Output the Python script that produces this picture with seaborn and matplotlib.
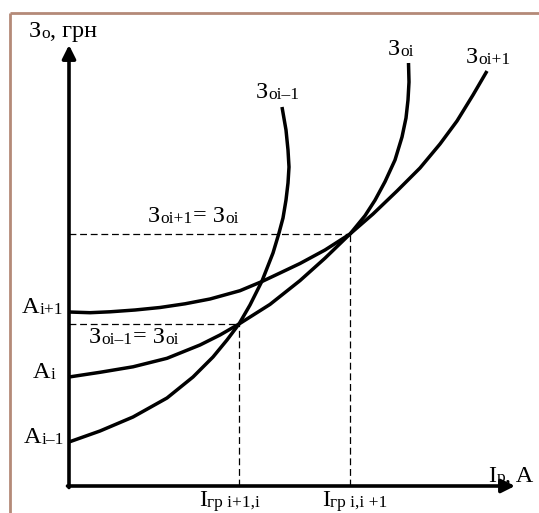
import matplotlib
matplotlib.use("Agg")
import matplotlib.pyplot as plt
import seaborn as sns
import pandas as pd

# ---------------- data (arbitrary units: current I_p on x, cost З_o on y) ----------------
# curve З_oi-1
c1_x = [0.0, 3.1, 6.4, 9.8, 12.4, 14.4, 15.8, 17.0, 18.1, 19.3, 20.4, 21.0, 21.4, 21.7, 21.9, 22.0, 21.9, 21.7, 21.3]
c1_y = [4.4, 5.5, 6.9, 8.8, 10.9, 12.9, 14.6, 16.2, 18.1, 20.5, 23.3, 25.3, 26.8, 28.6, 30.3, 31.9, 33.6, 35.6, 37.9]
# curve З_oi
c2_x = [0.0, 3.1, 6.4, 9.8, 13.1, 15.1, 17.0, 20.1, 23.1, 25.6, 28.1, 29.6, 30.6, 31.6, 32.6, 33.3, 33.7, 33.9, 34.0, 33.95]
c2_y = [10.9, 11.37, 11.92, 12.77, 14.1, 15.1, 16.2, 18.16, 20.54, 22.78, 25.2, 27.03, 28.58, 30.43, 32.6, 34.9, 36.8, 38.6, 40.4, 42.3]
# curve З_oi+1
c3_x = [0.0, 2.1, 4.1, 6.6, 9.1, 11.6, 14.1, 17.1, 19.3, 21.1, 23.1, 25.6, 28.1, 30.4, 32.8, 35.1, 37.1, 38.8, 40.4, 41.8]
c3_y = [17.4, 17.33, 17.42, 17.6, 17.85, 18.22, 18.7, 19.53, 20.45, 21.3, 22.25, 23.6, 25.2, 27.2, 29.5, 31.8, 34.2, 36.5, 39.1, 41.5]

# curve labels: (main letter, subscript)
curve_labels = [("З", "oi–1"), ("З", "oi"), ("З", "oi+1")]
# boundary currents and equal-cost levels (intersection points)
grp_x = [17.0, 28.1]
grp_y = [16.2, 25.2]
grp_labels = [("I", "гр i+1,i"), ("I", "гр i,i +1")]
eq_labels = [("З", "oi–1", "= З", "oi"), ("З", "oi+1", "= З", "oi")]
# starting values on the cost axis
a_values = [4.4, 10.9, 17.4]
a_labels = [("A", "i–1"), ("A", "i"), ("A", "i+1")]

x_axis_label = ("I", "р", ", A")
y_axis_label = ("З", "о", ", грн")

# ---------------- styling ----------------
sns.set_theme(style="white")
plt.rcParams["font.family"] = ["Liberation Serif", "DejaVu Serif"]

fig = plt.figure(figsize=(5.39, 5.13), dpi=100)
ax = fig.add_axes([0, 0, 1, 1])
ax.set_xlim(-6.9, 47.0)
ax.set_ylim(-2.7, 48.6)
ax.axis("off")

MAIN = 17.5
SUB = 12.5
black = "black"


def rich_text(x, y, parts):
    """Draw alternating main / subscript pieces, starting with a main piece."""
    prev = None
    for i, txt in enumerate(parts):
        fs = MAIN if i % 2 == 0 else SUB
        if prev is None:
            prev = ax.text(x, y, txt, fontsize=fs, ha="left", va="baseline",
                           color=black)
        else:
            prev = ax.annotate(txt, xy=(1, 0), xycoords=prev, xytext=(0.2, 0),
                               textcoords="offset points", fontsize=fs,
                               ha="left", va="bottom", color=black)
    return prev


# border (tan frame, top and left visible)
border_col = "#B48A78"
ax.plot([-5.95, 47.0], [47.3, 47.3], color=border_col, lw=2.0, solid_capstyle="butt")
ax.plot([-5.95, -5.95], [47.3, -2.7], color=border_col, lw=2.0, solid_capstyle="butt")

# curves
for cx, cy in [(c1_x, c1_y), (c2_x, c2_y), (c3_x, c3_y)]:
    df = pd.DataFrame({"x": cx, "y": cy})
    sns.lineplot(data=df, x="x", y="y", sort=False, estimator=None,
                 color=black, lw=2.5, ax=ax, solid_joinstyle="round",
                 solid_capstyle="butt")
ax.set_xlabel("")
ax.set_ylabel("")

# dashed guide lines
dash = (0, (5.5, 3.0))
for gx, gy in zip(grp_x, grp_y):
    ax.plot([0, gx], [gy, gy], color=black, lw=0.9, ls=dash)
    ax.plot([gx, gx], [0, gy], color=black, lw=0.9, ls=dash)

# axes with arrows
arrow_kw = dict(arrowstyle="-|>", lw=2.6, color=black, mutation_scale=20,
                shrinkA=0, shrinkB=0)
ax.annotate("", xy=(0, 44.1), xytext=(0, -0.15), arrowprops=arrow_kw)
ax.annotate("", xy=(44.6, 0), xytext=(-0.15, 0), arrowprops=arrow_kw)

# axis labels
rich_text(-4.0, 44.9, y_axis_label)
rich_text(41.9, 0.45, x_axis_label)

# curve labels
curve_label_pos = [(18.7, 38.8), (31.9, 43.1), (39.7, 42.3)]
for parts, (tx, ty) in zip(curve_labels, curve_label_pos):
    rich_text(tx, ty, parts)

# equality labels
eq_pos = [(2.0, 14.3), (7.9, 26.4)]
for parts, (tx, ty) in zip(eq_labels, eq_pos):
    rich_text(tx, ty, parts)

# A labels on y axis
a_left = [-4.5, -3.6, -4.7]
for val, parts, lx in zip(a_values, a_labels, a_left):
    rich_text(lx, val - 0.1, parts)

# boundary current labels under x axis
grp_left = [13.0, 25.3]
for parts, lx in zip(grp_labels, grp_left):
    rich_text(lx, -2.0, parts)

fig.savefig("out.png", dpi=100)
